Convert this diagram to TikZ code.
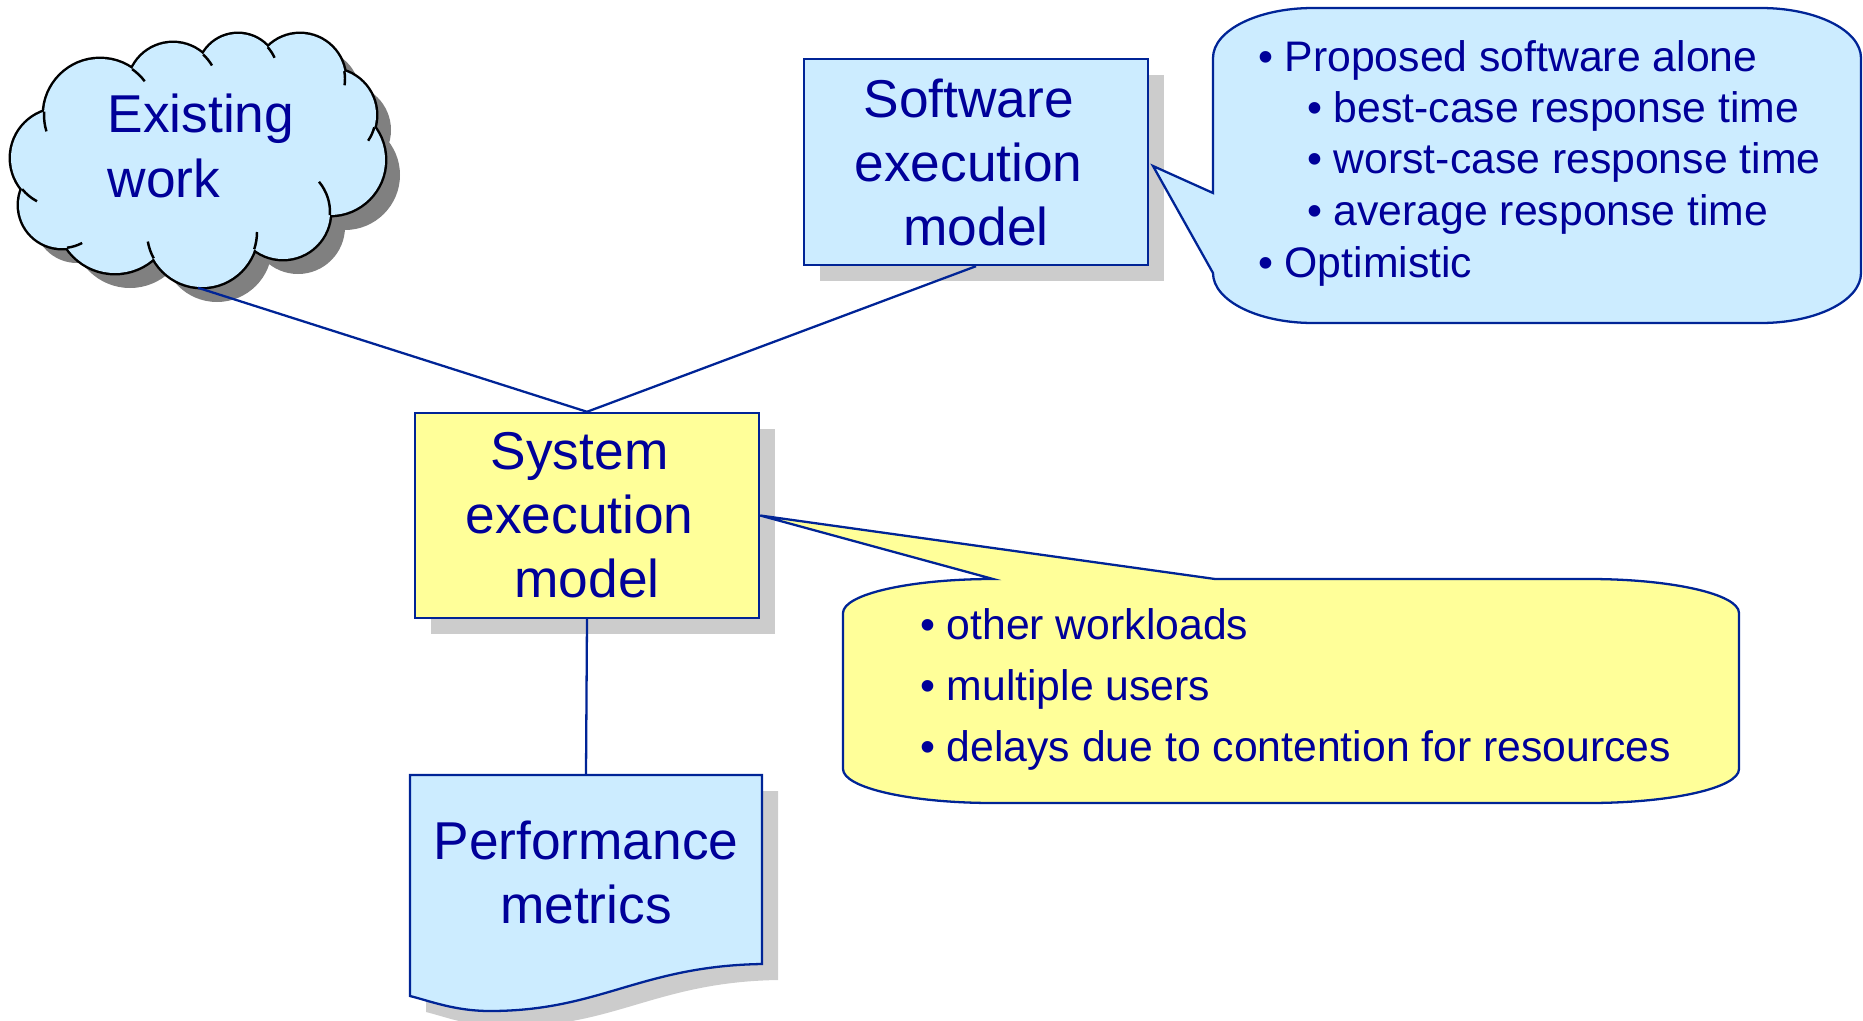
\documentclass[tikz,border=0pt]{standalone}
\usepackage{fontspec}
\setmainfont{Liberation Sans}
\usetikzlibrary{shadows}
\definecolor{lightblue}{RGB}{204,236,255}
\definecolor{paleyellow}{RGB}{255,255,153}
\definecolor{shadowgray}{RGB}{204,204,204}
\definecolor{cloudshadow}{RGB}{128,128,128}
\definecolor{navy}{RGB}{0,0,153}
\definecolor{lineblue}{RGB}{0,36,150}
\newcommand\bul{\llap{•\hspace{3.2pt}}}
\newcommand\tsp{\kern0.278em}
\tikzset{
  bigtxt/.style={font=\fontsize{15.15}{18.2}\selectfont, text=navy, align=center},
  smalltxt/.style={font=\fontsize{12.15}{14}\selectfont, text=navy, anchor=base west, inner sep=0pt},
  onelinetxt/.style={font=\fontsize{15.15}{18.2}\selectfont, text=navy, anchor=base west, inner sep=0pt},
  boxnode/.style={draw=lineblue, line width=0.65pt, inner sep=0pt},
  boxshadow/.style={drop shadow={shadow xshift=0.16cm, shadow yshift=-0.16cm, fill=shadowgray, opacity=1}},
  conn/.style={draw=lineblue, line width=0.65pt},
  calloutline/.style={draw=lineblue, line width=0.65pt, line join=miter},
  cloudtail/.style={draw=black, line width=0.7pt},
}
\begin{document}
\begin{tikzpicture}[x=0.01cm, y=-0.01cm]
\useasboundingbox (0,0) rectangle (1863,1021);
\clip (0,0) rectangle (1863,1021);

% ---------- cloud ----------
\fill[cloudshadow, shift={(15,15)}]
  \foreach \cx/\cy/\r in {100/115/56,173/88/45,238/74/40,300/79/45,330/115/46,330/160/55,283/212/47,202/232/55,115/215/58,62/205/43,60/158/49}
  {(\cx,\cy) circle[radius=\r]}
  (200,165) ellipse[x radius=150, y radius=85];
\filldraw[draw=black, line width=1.4pt, fill=lightblue]
  \foreach \cx/\cy/\r in {100/115/56,173/88/45,238/74/40,300/79/45,330/115/46,330/160/55,283/212/47,202/232/55,115/215/58,62/205/43,60/158/49}
  {(\cx,\cy) circle[radius=\r]};
\fill[lightblue]
  \foreach \cx/\cy/\r in {100/115/56,173/88/45,238/74/40,300/79/45,330/115/46,330/160/55,283/212/47,202/232/55,115/215/58,62/205/43,60/158/49}
  {(\cx,\cy) circle[radius=\r]}
  (200,165) ellipse[x radius=150, y radius=85];
% inner tails of the cloud bumps
\foreach \cx/\cy/\r/\aa/\ab in {100/115/56/305/323, 173/88/45/312/330, 238/74/40/318/336, 300/79/45/350/368, 330/115/46/15.6/34, 283/212/47/3.7/-40, 202/232/55/18.2/0, 202/232/55/151.4/170, 62/205/43/83.2/62, 60/158/49/140.6/118, 100/115/56/183.4/163}
  {\draw[cloudtail] (\cx,\cy) ++(\aa:\r) arc[start angle=\aa, end angle=\ab, radius=\r];}
\node[minimum width=3.74cm, minimum height=2.53cm, inner sep=0pt] (cloud) at (198,160.5) {};
\node[onelinetxt] (exist1) at (107,133) {Existing};
\node[onelinetxt] (exist2) at (107,197) {work};

% ---------- boxes ----------
\node[boxnode, boxshadow, fill=lightblue, minimum width=3.44cm, minimum height=2.06cm, bigtxt] (sw) at (976,162) {Software\tsp\\execution\tsp\\model};
\node[boxnode, boxshadow, fill=paleyellow, minimum width=3.44cm, minimum height=2.05cm, bigtxt] (sys) at (587,515.5) {System\tsp\\execution\tsp\\model};

% ---------- performance metrics (document shape) ----------
\node[minimum width=3.52cm, minimum height=1.89cm, inner sep=0pt] (perfbox) at (586,869.5) {};
\fill[shadowgray, shift={(16,16)}] (410,775) -- (762,775) -- (762,964)
  .. controls (640,966) and (600,1011) .. (490,1011)
  .. controls (455,1011) and (430,1001) .. (410,996) -- cycle;
\filldraw[calloutline, fill=lightblue] (410,775) -- (762,775) -- (762,964)
  .. controls (640,966) and (600,1011) .. (490,1011)
  .. controls (455,1011) and (430,1001) .. (410,996) -- cycle;
\node[bigtxt] (perf) at ([yshift=-0.03cm]perfbox.center) {Performance\\metrics};

% ---------- connectors ----------
\draw[conn] (cloud.south) -- (sys.north);
\draw[conn] (sw.south) -- (sys.north);
\draw[conn] (sys.south) -- (perfbox.north);

% ---------- blue callout ----------
\filldraw[calloutline, fill=lightblue] (1153,166) -- (1213,193) -- (1213,58)
  arc[start angle=180, end angle=270, x radius=100, y radius=50]
  -- (1761,8)
  arc[start angle=270, end angle=360, x radius=100, y radius=50]
  -- (1861,273)
  arc[start angle=0, end angle=90, x radius=100, y radius=50]
  -- (1313,323)
  arc[start angle=90, end angle=180, x radius=100, y radius=50]
  -- cycle;
\node[smalltxt] (b1) at (1284,71) {\bul Proposed software alone};
\node[smalltxt] (b2) at (1333,122) {\bul best-case response time};
\node[smalltxt] (b3) at (1333,173) {\bul worst-case response time};
\node[smalltxt] (b4) at (1333,225) {\bul average response time};
\node[smalltxt] (b5) at (1284,277) {\bul Optimistic};

% ---------- yellow callout ----------
\filldraw[calloutline, fill=paleyellow] (sys.east) -- (1215,579) -- (1589,579)
  arc[start angle=270, end angle=360, x radius=150, y radius=34]
  -- (1739,769)
  arc[start angle=0, end angle=90, x radius=150, y radius=34]
  -- (993,803)
  arc[start angle=90, end angle=180, x radius=150, y radius=34]
  -- (843,613)
  arc[start angle=180, end angle=270, x radius=150, y radius=34]
  -- cycle;
\node[smalltxt] (y1) at (946,639) {\bul other workloads};
\node[smalltxt] (y2) at (946,700.7) {\bul multiple users};
\node[smalltxt] (y3) at (946,761.7) {\bul delays due to contention for resources};
\end{tikzpicture}
\end{document}
